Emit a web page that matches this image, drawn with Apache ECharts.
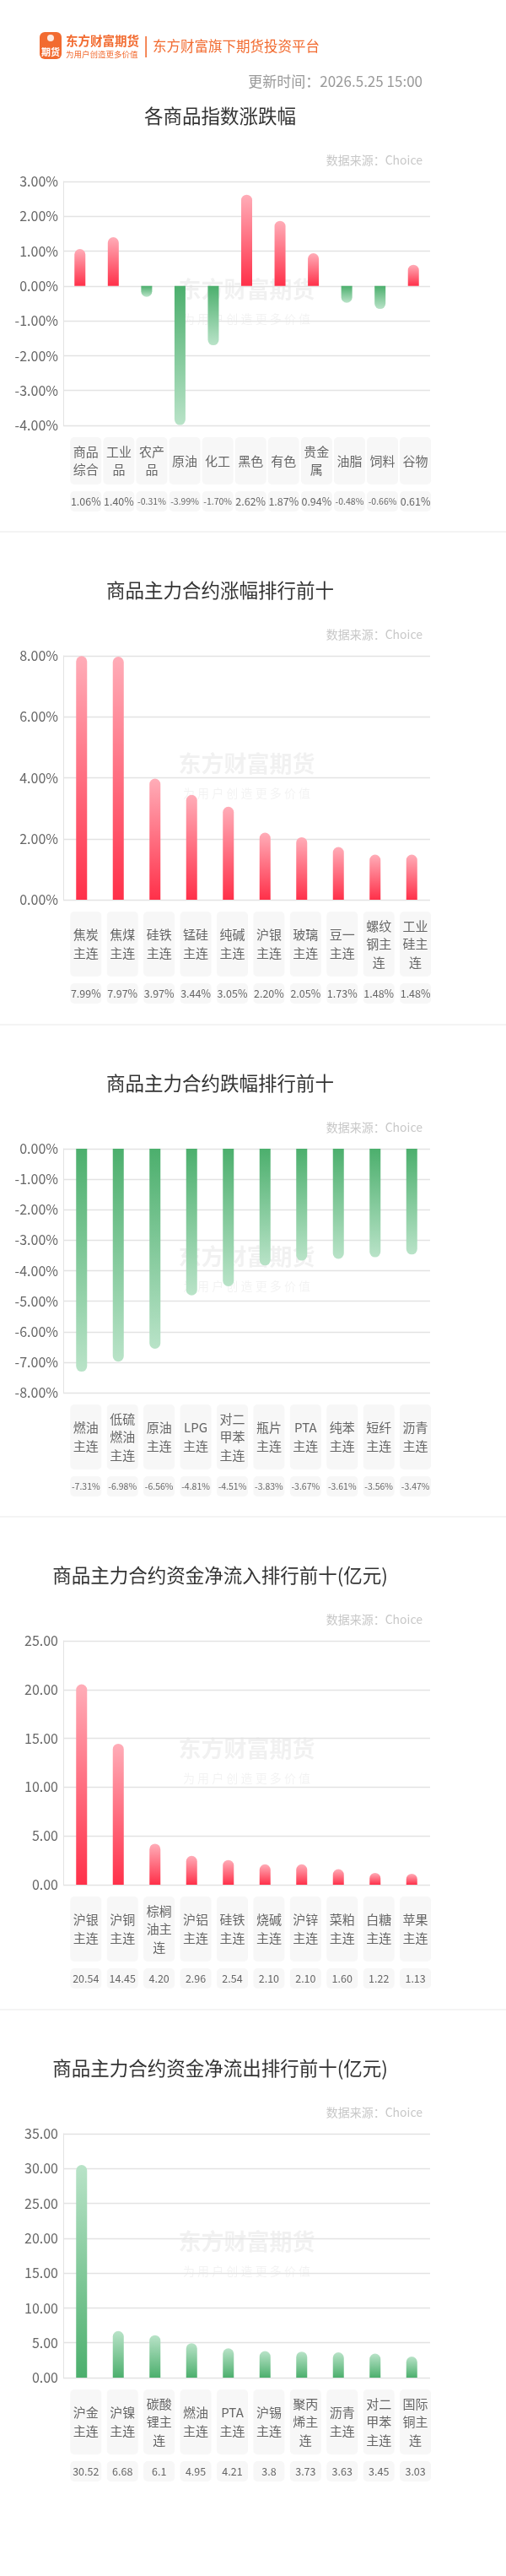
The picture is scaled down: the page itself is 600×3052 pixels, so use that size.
<!DOCTYPE html>
<html><head><meta charset="utf-8">
<script src="https://cdn.jsdelivr.net/npm/echarts@6/dist/echarts.min.js"></script>
<style>html,body{margin:0;padding:0;background:#fff}#c{width:600px;height:3052px}</style>
</head><body><div id="c"></div>
<script>
// ---------- DATA ----------
const indexCategories = ['商品综合','工业品','农产品','原油','化工','黑色','有色','贵金属','油脂','饲料','谷物'];
const indexValues = [1.06, 1.40, -0.31, -3.99, -1.70, 2.62, 1.87, 0.94, -0.48, -0.66, 0.61];
const indexTicks = [-4, -3, -2, -1, 0, 1, 2, 3];

const gainCategories = ['焦炭主连','焦煤主连','硅铁主连','锰硅主连','纯碱主连','沪银主连','玻璃主连','豆一主连','螺纹钢主连','工业硅主连'];
const gainValues = [7.99, 7.97, 3.97, 3.44, 3.05, 2.20, 2.05, 1.73, 1.48, 1.48];
const gainTicks = [0, 2, 4, 6, 8];

const lossCategories = ['燃油主连','低硫燃油主连','原油主连','LPG主连','对二甲苯主连','瓶片主连','PTA主连','纯苯主连','短纤主连','沥青主连'];
const lossValues = [-7.31, -6.98, -6.56, -4.81, -4.51, -3.83, -3.67, -3.61, -3.56, -3.47];
const lossTicks = [-8, -7, -6, -5, -4, -3, -2, -1, 0];

const inflowCategories = ['沪银主连','沪铜主连','棕榈油主连','沪铝主连','硅铁主连','烧碱主连','沪锌主连','菜粕主连','白糖主连','苹果主连'];
const inflowValues = [20.54, 14.45, 4.20, 2.96, 2.54, 2.10, 2.10, 1.60, 1.22, 1.13];
const inflowTicks = [0, 5, 10, 15, 20, 25];

const outflowCategories = ['沪金主连','沪镍主连','碳酸锂主连','燃油主连','PTA主连','沪锡主连','聚丙烯主连','沥青主连','对二甲苯主连','国际铜主连'];
const outflowValues = [30.52, 6.68, 6.1, 4.95, 4.21, 3.8, 3.73, 3.63, 3.45, 3.03];
const outflowTicks = [0, 5, 10, 15, 20, 25, 30, 35];

const sectionTitles = ['各商品指数涨跌幅','商品主力合约涨幅排行前十','商品主力合约跌幅排行前十','商品主力合约资金净流入排行前十(亿元)','商品主力合约资金净流出排行前十(亿元)'];

// ---------- STYLE / LAYOUT ----------
const FONT = '"Noto Sans CJK SC","Noto Sans",sans-serif';
const ORANGE = '#f26b30';
const RED = ['#ffadb8', '#ff3049'];   // far end, zero end
const GREEN = ['#b9e3c8', '#4caf6d'];
const GRID_LEFT = 75, GRID_WIDTH = 435, GRID_H = 289;
const gridTops = [215, 777, 1361, 1944, 2528];
const boxHeights = [56, 77, 77, 77, 77];

const pct = v => v.toFixed(2) + '%';
const two = v => v.toFixed(2);
const sections = [
  { cats: indexCategories, vals: indexValues, ticks: indexTicks, axisFmt: pct, valFmt: pct, color: 'sign' },
  { cats: gainCategories, vals: gainValues, ticks: gainTicks, axisFmt: pct, valFmt: pct, color: 'red' },
  { cats: lossCategories, vals: lossValues, ticks: lossTicks, axisFmt: pct, valFmt: pct, color: 'green' },
  { cats: inflowCategories, vals: inflowValues, ticks: inflowTicks, axisFmt: two, valFmt: two, color: 'red' },
  { cats: outflowCategories, vals: outflowValues, ticks: outflowTicks, axisFmt: two, valFmt: v => String(v), color: 'green' }
];

function barItem(v, mode) {
  const pal = mode === 'sign' ? (v >= 0 ? RED : GREEN) : (mode === 'red' ? RED : GREEN);
  const stops = v >= 0
    ? [{ offset: 0, color: pal[0] }, { offset: 1, color: pal[1] }]
    : [{ offset: 0, color: pal[1] }, { offset: 1, color: pal[0] }];
  return {
    value: v,
    itemStyle: {
      color: { type: 'linear', x: 0, y: 0, x2: 0, y2: 1, colorStops: stops },
      borderRadius: v >= 0 ? [6.5, 6.5, 0, 0] : [0, 0, 6.5, 6.5]
    }
  };
}

const grid = [], xAxis = [], yAxis = [], series = [];
const graphic = [];

sections.forEach((s, i) => {
  const top = gridTops[i];
  const bottom = top + GRID_H;
  const H = boxHeights[i];
  const n = s.cats.length;
  const firstC = 101.8, lastC = 492.6;
  const sp = (lastC - firstC) / (n - 1);
  const lbLeft = firstC - sp / 2;

  grid.push({ left: GRID_LEFT, top: top, width: GRID_WIDTH, height: GRID_H, containLabel: false, outerBoundsMode: 'none' });
  grid.push({ left: lbLeft, top: bottom - 10, width: sp * n, height: 10, containLabel: false, outerBoundsMode: 'none' });

  const gBar = 2 * i, gLab = 2 * i + 1;
  const xBar = xAxis.length;
  xAxis.push({ type: 'category', gridIndex: gBar, data: s.cats, axisLine: { show: false }, axisTick: { show: false }, axisLabel: { show: false }, splitLine: { show: false } });
  xAxis.push({
    type: 'category', gridIndex: gLab, position: 'bottom', data: s.cats,
    axisLine: { show: false }, axisTick: { show: false }, splitLine: { show: false },
    axisLabel: {
      interval: 0, margin: 14 + H / 2, verticalAlign: 'middle', align: 'center',
      width: 37, height: H, overflow: 'break', lineHeight: 21.5,
      fontSize: 15, fontFamily: FONT, color: '#666',
      backgroundColor: '#f7f7f7', borderRadius: 5
    }
  });
  xAxis.push({
    type: 'category', gridIndex: gLab, position: 'bottom', data: s.cats,
    axisLine: { show: false }, axisTick: { show: false }, splitLine: { show: false },
    axisLabel: {
      interval: 0, margin: 14 + H + 8 + 12, verticalAlign: 'middle', align: 'center',
      width: 37, height: 24, lineHeight: 24,
      backgroundColor: '#f7f7f7', borderRadius: 5,
      formatter: (val, idx) => {
        const t = s.valFmt(s.vals[idx]);
        return (t.length > 5 ? '{s|' : '{n|') + t + '}';
      },
      rich: {
        n: { fontSize: 12.5, lineHeight: 24, height: 24, fontFamily: FONT, color: '#666' },
        s: { fontSize: 10.5, lineHeight: 24, height: 24, fontFamily: FONT, color: '#666' }
      }
    }
  });

  const yBar = yAxis.length;
  const tks = s.ticks;
  yAxis.push({
    type: 'value', gridIndex: gBar, min: tks[0], max: tks[tks.length - 1], interval: tks[1] - tks[0],
    axisLine: { show: true, lineStyle: { color: '#e3e3e3', width: 1 } },
    axisTick: { show: false },
    splitLine: { show: true, lineStyle: { color: '#e3e3e3', width: 1.3 } },
    axisLabel: { margin: 6, fontSize: 16, fontFamily: FONT, color: '#666', formatter: s.axisFmt }
  });
  yAxis.push({ type: 'value', gridIndex: gLab, show: false, min: 0, max: 1 });

  series.push({
    type: 'bar', xAxisIndex: xBar, yAxisIndex: yBar, barWidth: 13,
    data: s.vals.map(v => barItem(v, s.color)),
    silent: true, animation: false
  });

  // title, data source, watermark, separator
  graphic.push({ type: 'text', x: 261, y: top - 77.5, style: { text: sectionTitles[i], fontSize: 22.5, fontFamily: FONT, fill: '#333', align: 'center', verticalAlign: 'middle' } });
  graphic.push({ type: 'text', x: 501, y: top - 25.7, style: { text: '数据来源：Choice', fontSize: 14, fontFamily: FONT, fill: '#c8c8c8', align: 'right', verticalAlign: 'middle' } });
  const cx = GRID_LEFT + GRID_WIDTH / 2, cy = top + GRID_H / 2;
  graphic.push({ type: 'text', x: cx, y: cy - 16.5, z: -1, style: { text: '东方财富期货', fontSize: 27, fontWeight: 'bold', fontFamily: FONT, fill: 'rgba(0,0,0,0.055)', align: 'center', verticalAlign: 'middle' } });
  graphic.push({ type: 'text', x: cx, y: cy + 18, z: -1, style: { text: '为 用 户 创 造 更 多 价 值', fontSize: 14, fontFamily: FONT, fill: 'rgba(0,0,0,0.05)', align: 'center', verticalAlign: 'middle' } });
  if (i > 0) {
    graphic.push({ type: 'rect', shape: { x: 0, y: top - 148, width: 600, height: 2 }, style: { fill: '#f4f4f4' } });
  }
});

// header
graphic.push(
  { type: 'rect', shape: { x: 47, y: 38, width: 26, height: 32, r: 6 }, style: { fill: ORANGE } },
  { type: 'circle', shape: { cx: 60, cy: 45, r: 4 }, style: { fill: 'rgba(255,255,255,0.85)' } },
  { type: 'text', x: 60, y: 61.5, style: { text: '期货', fontSize: 11, fontWeight: 'bold', fontFamily: FONT, fill: '#fff', align: 'center', verticalAlign: 'middle' } },
  { type: 'text', x: 78, y: 48.5, style: { text: '东方财富期货', fontSize: 14.5, fontWeight: 'bold', fontFamily: FONT, fill: ORANGE, align: 'left', verticalAlign: 'middle' } },
  { type: 'text', x: 78, y: 64, style: { text: '为用户创造更多价值', fontSize: 9.5, fontFamily: FONT, fill: ORANGE, align: 'left', verticalAlign: 'middle' } },
  { type: 'rect', shape: { x: 172.3, y: 43, width: 1.6, height: 25 }, style: { fill: ORANGE } },
  { type: 'text', x: 181, y: 55, style: { text: '东方财富旗下期货投资平台', fontSize: 16.5, fontFamily: FONT, fill: ORANGE, align: 'left', verticalAlign: 'middle' } },
  { type: 'text', x: 501, y: 96.7, style: { text: '更新时间：2026.5.25 15:00', fontSize: 17, fontFamily: FONT, fill: '#999', align: 'right', verticalAlign: 'middle' } }
);

const chart = echarts.init(document.getElementById('c'), null, { renderer: 'canvas' });
chart.setOption({
  backgroundColor: '#fff',
  animation: false,
  grid, xAxis, yAxis, series, graphic
});
</script>
</body></html>
